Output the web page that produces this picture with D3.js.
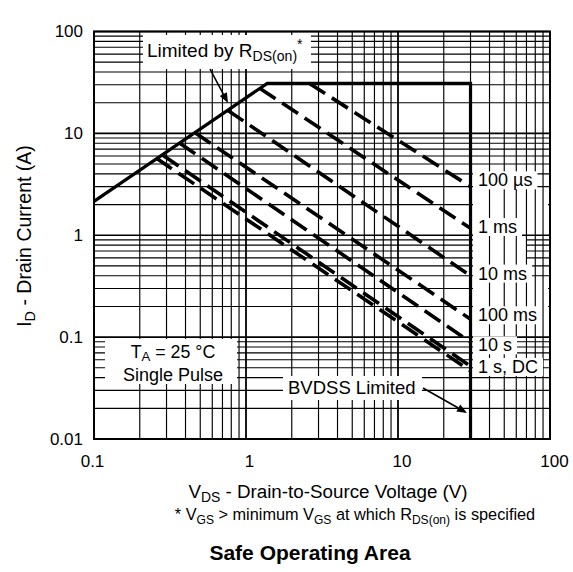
<!DOCTYPE html>
<html><head><meta charset="utf-8">
<script src="https://cdn.jsdelivr.net/npm/d3@7"></script>
<style>body{margin:0;background:#fff}</style>
</head><body><svg id="c" width="573" height="572"></svg>
<script>
// ---------- data ----------
const xTicks = [0.1, 1, 10, 100];
const xTickLabels = ["0.1", "1", "10", "100"];
const yTicks = [0.01, 0.1, 1, 10, 100];
const yTickLabels = ["0.01", "0.1", "1", "10", "100"];

// SOA boundary: RDS(on) limit -> current limit -> BVDSS limit
const limitV = [0.1, 1.38, 30, 30];
const limitI = [2.15, 31, 31, 0.01];

// pulse-width lines
const pulseNames  = ["100 µs", "1 ms", "10 ms", "100 ms", "10 s", "1 s", "DC"];
const pulseStartV = [2.6, 1.23, 0.757, 0.46, 0.365, 0.284, 0.256];
const pulseStartI = [31, 27.8, 16.9, 10.2, 8.03, 6.1, 5.72];
const pulseEndV   = [30, 30, 30, 30, 30, 30, 30];
const pulseEndI   = [3.0, 1.17, 0.40, 0.15, 0.0895, 0.0517, 0.0465];

// labels on the right and the line each one sits at
const labelTexts = ["100 µs", "1 ms", "10 ms", "100 ms", "10 s", "1 s, DC"];
const labelLine  = [0, 1, 2, 3, 4, 5];

// ---------- layout ----------
const W = 573, H = 572;
const L = 94, R = 550, T = 31.5, B = 439;
const FONT = "'Liberation Sans', Arial, Helvetica, sans-serif";
const svg = d3.select("#c").style("font-family", FONT);
svg.append("rect").attr("width", W).attr("height", H).attr("fill", "#fff");

const x = d3.scaleLog().domain([0.1, 100]).range([L, R]);
const y = d3.scaleLog().domain([0.01, 100]).range([B, T]);

const gridX = [], gridY = [];
[0.1, 1, 10].forEach(d => { for (let k = 1; k < 10; k++) gridX.push({v: k * d, major: k === 1}); });
gridX.push({v: 100, major: true});
[0.01, 0.1, 1, 10].forEach(d => { for (let k = 1; k < 10; k++) gridY.push({v: k * d, major: k === 1}); });
gridY.push({v: 100, major: true});

// horizontal grid
svg.append("g").selectAll("line").data(gridY).join("line")
  .attr("x1", L).attr("x2", R)
  .attr("y1", d => y(d.v)).attr("y2", d => y(d.v))
  .attr("stroke", "#000").attr("stroke-width", d => d.major ? 1.6 : 1.15);

// masks that hide only horizontal grid in label column
const hMasks = [[473, 192, 75, 20], [473, 238, 54, 30], [473, 284, 75, 26]];
svg.append("g").selectAll("rect").data(hMasks).join("rect")
  .attr("x", d => d[0]).attr("y", d => d[1]).attr("width", d => d[2]).attr("height", d => d[3])
  .attr("fill", "#fff");

// vertical grid
svg.append("g").selectAll("line").data(gridX).join("line")
  .attr("y1", T).attr("y2", B)
  .attr("x1", d => x(d.v)).attr("x2", d => x(d.v))
  .attr("stroke", "#000").attr("stroke-width", d => d.major ? 1.8 : 1.15);

// white annotation boxes (left part)
const boxes = [[143, 35, 168, 34], [105, 339, 132, 45], [283, 376, 139, 24]];
svg.append("g").selectAll("rect").data(boxes).join("rect")
  .attr("x", d => d[0]).attr("y", d => d[1]).attr("width", d => d[2]).attr("height", d => d[3])
  .attr("fill", "#fff");

// rich text helper
function rich(sel, parts, fs, subShift = 0.22) {
  let cur = 0;
  parts.forEach(p => {
    const target = p.s === "sub" ? subShift * fs : p.s === "sup" ? -0.42 * fs : 0;
    const ts = sel.append("tspan").attr("dy", target - cur).text(p.t);
    if (p.s) ts.attr("font-size", fs * 0.74);
    cur = target;
  });
  return sel;
}

// pulse labels on the right with white background
const labelDy = [-6.6, -1.6, -2.5, -4.2, 3, 0.3];
const lblG = svg.append("g");
labelTexts.forEach((n, i) => {
  const cy = y(pulseEndI[labelLine[i]]) + labelDy[i];
  const t = lblG.append("text").attr("x", 478).attr("y", cy + 6.3)
    .attr("font-size", 18).attr("fill", "#000").text(n);
  const bb = t.node().getBBox();
  lblG.insert("rect", "text").attr("x", bb.x - 5).attr("y", bb.y + 1)
    .attr("width", bb.width + 10).attr("height", bb.height - 2).attr("fill", "#fff");
});

// SOA boundary
const line = d3.line().x(d => x(d[0])).y(d => y(d[1]));
svg.append("path").datum(limitV.map((v, i) => [v, limitI[i]]))
  .attr("d", line).attr("fill", "none").attr("stroke", "#000")
  .attr("stroke-width", 3.2).attr("stroke-linejoin", "miter");

// pulse lines
svg.append("g").selectAll("path").data(pulseNames).join("path")
  .attr("d", (n, i) => line([[pulseStartV[i], pulseStartI[i]], [pulseEndV[i], pulseEndI[i]]]))
  .attr("fill", "none").attr("stroke", "#000").attr("stroke-width", 3.6)
  .attr("stroke-dasharray", "19 8");

// border
svg.append("rect").attr("x", L).attr("y", T).attr("width", R - L).attr("height", B - T)
  .attr("fill", "none").attr("stroke", "#000").attr("stroke-width", 2);

// axes
const xAxis = d3.axisBottom(x).tickValues(xTicks).tickFormat((d, i) => xTickLabels[i]).tickSize(0).tickPadding(16);
const gx = svg.append("g").attr("transform", `translate(0,${B})`).call(xAxis);
const xDx = [-2, 3, 3.5, 4];
gx.selectAll("text").attr("dx", (d, i) => xDx[i]);
const yAxis = d3.axisLeft(y).tickValues(yTicks).tickFormat((d, i) => yTickLabels[i]).tickSize(0).tickPadding(11);
const gy = svg.append("g").attr("transform", `translate(${L},0)`).call(yAxis);
[gx, gy].forEach(g => {
  g.select(".domain").remove();
  g.selectAll("text").attr("font-size", 17).attr("font-family", FONT).attr("fill", "#000");
});

// axis titles
rich(svg.append("text").attr("x", 328).attr("y", 498).attr("text-anchor", "middle").attr("font-size", 18.8),
  [{t: "V"}, {t: "DS", s: "sub"}, {t: " - Drain-to-Source Voltage (V)"}], 18.8);
rich(svg.append("text").attr("transform", "translate(31,236) rotate(-90)").attr("text-anchor", "middle").attr("font-size", 19.5),
  [{t: "I"}, {t: "D", s: "sub"}, {t: " - Drain Current (A)"}], 19.5);
rich(svg.append("text").attr("x", 355).attr("y", 520).attr("text-anchor", "middle").attr("font-size", 16.3),
  [{t: "* V"}, {t: "GS", s: "sub"}, {t: " >  minimum V"}, {t: "GS", s: "sub"}, {t: " at which R"}, {t: "DS(on)", s: "sub"}, {t: " is specified"}], 16.3);
svg.append("text").attr("x", 310).attr("y", 560).attr("text-anchor", "middle")
  .attr("font-size", 21).attr("font-weight", "bold").text("Safe Operating Area");

// annotations
rich(svg.append("text").attr("x", 147).attr("y", 57).attr("font-size", 19),
  [{t: "Limited by R"}, {t: "DS(on)", s: "sub"}, {t: "*", s: "sup"}], 19);
rich(svg.append("text").attr("x", 173).attr("y", 358).attr("text-anchor", "middle").attr("font-size", 17.8),
  [{t: "T"}, {t: "A", s: "sub"}, {t: " = 25 °C"}], 17.8, 0.17);
svg.append("text").attr("x", 173).attr("y", 380.5).attr("text-anchor", "middle").attr("font-size", 18).text("Single Pulse");
svg.append("text").attr("x", 288).attr("y", 393.5).attr("font-size", 18.5).text("BVDSS Limited");

// arrows
function arrow(x1, y1, x2, y2) {
  const a = Math.atan2(y2 - y1, x2 - x1), len = 10, w = 4;
  const bx = x2 - len * Math.cos(a), by = y2 - len * Math.sin(a);
  svg.append("line").attr("x1", x1).attr("y1", y1).attr("x2", bx).attr("y2", by)
    .attr("stroke", "#000").attr("stroke-width", 1.6);
  svg.append("path").attr("d",
    `M${x2},${y2}L${bx + w * Math.sin(a)},${by - w * Math.cos(a)}L${bx - w * Math.sin(a)},${by + w * Math.cos(a)}Z`)
    .attr("fill", "#000");
}
arrow(210, 69, 228, 103);
arrow(423, 388, 467, 413);
</script></body></html>
